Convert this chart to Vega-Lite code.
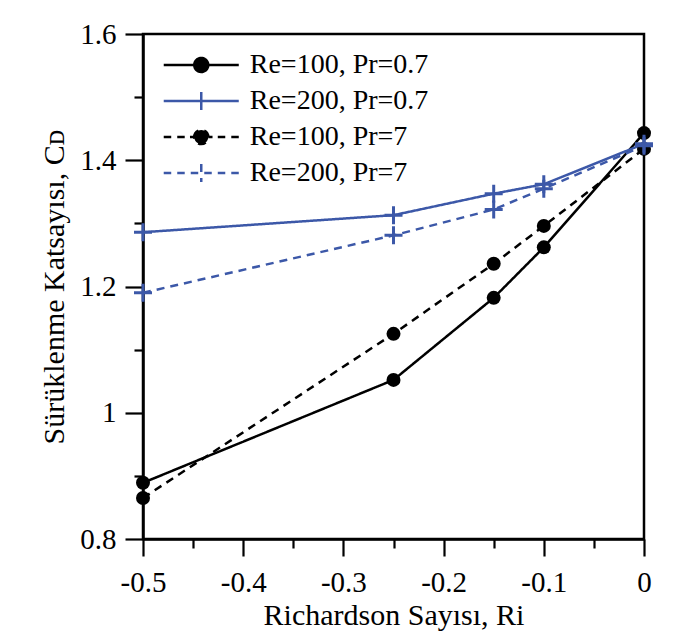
{
  "$schema": "https://vega.github.io/schema/vega-lite/v6.json",
  "width": 501,
  "height": 505,
  "autosize": {"type": "none"},
  "padding": {"left": 143, "top": 34, "right": 39, "bottom": 104},
  "background": "white",
  "config": {
    "font": "Liberation Serif",
    "view": {"stroke": "black", "strokeWidth": 2.5},
    "axis": {
      "grid": false,
      "domainColor": "black",
      "domainWidth": 2.5,
      "tickColor": "black",
      "tickWidth": 2.2,
      "labelColor": "black",
      "titleColor": "black",
      "labelFont": "Liberation Serif",
      "titleFont": "Liberation Serif",
      "titleFontWeight": "normal",
      "labelFontSize": 29,
      "titleFontSize": 30,
      "labelOverlap": false,
      "labelFlush": false
    }
  },
  "data": {
    "values": [
      {"series": "Re=100, Pr=0.7", "Re": 100, "Ri": -0.5, "CD": 0.889},
      {"series": "Re=100, Pr=0.7", "Re": 100, "Ri": -0.25, "CD": 1.052},
      {"series": "Re=100, Pr=0.7", "Re": 100, "Ri": -0.15, "CD": 1.182},
      {"series": "Re=100, Pr=0.7", "Re": 100, "Ri": -0.1, "CD": 1.262},
      {"series": "Re=100, Pr=0.7", "Re": 100, "Ri": 0, "CD": 1.443},
      {"series": "Re=200, Pr=0.7", "Re": 200, "Ri": -0.5, "CD": 1.286},
      {"series": "Re=200, Pr=0.7", "Re": 200, "Ri": -0.25, "CD": 1.313},
      {"series": "Re=200, Pr=0.7", "Re": 200, "Ri": -0.15, "CD": 1.347},
      {"series": "Re=200, Pr=0.7", "Re": 200, "Ri": -0.1, "CD": 1.362},
      {"series": "Re=200, Pr=0.7", "Re": 200, "Ri": 0, "CD": 1.426},
      {"series": "Re=100, Pr=7", "Re": 100, "Ri": -0.5, "CD": 0.865},
      {"series": "Re=100, Pr=7", "Re": 100, "Ri": -0.25, "CD": 1.125},
      {"series": "Re=100, Pr=7", "Re": 100, "Ri": -0.15, "CD": 1.236},
      {"series": "Re=100, Pr=7", "Re": 100, "Ri": -0.1, "CD": 1.296},
      {"series": "Re=100, Pr=7", "Re": 100, "Ri": 0, "CD": 1.418},
      {"series": "Re=200, Pr=7", "Re": 200, "Ri": -0.5, "CD": 1.19},
      {"series": "Re=200, Pr=7", "Re": 200, "Ri": -0.25, "CD": 1.281},
      {"series": "Re=200, Pr=7", "Re": 200, "Ri": -0.15, "CD": 1.322},
      {"series": "Re=200, Pr=7", "Re": 200, "Ri": -0.1, "CD": 1.355},
      {"series": "Re=200, Pr=7", "Re": 200, "Ri": 0, "CD": 1.423}
    ]
  },
  "encoding": {
    "x": {
      "field": "Ri",
      "type": "quantitative",
      "scale": {"domain": [-0.5, 0], "nice": false, "zero": false},
      "axis": {
        "title": "Richardson Sayısı, Ri",
        "values": [-0.5, -0.45, -0.4, -0.35, -0.3, -0.25, -0.2, -0.15, -0.1, -0.05, 0],
        "labelExpr": "abs(round(datum.value*100)) % 10 == 0 ? (datum.value == 0 ? '0' : '-0.' + abs(round(datum.value*10))) : ''",
        "tickSize": {"condition": {"test": "abs(round(datum.value*100)) % 10 == 0", "value": 17}, "value": 9},
        "labelPadding": 12,
        "titlePadding": 3
      }
    },
    "y": {
      "field": "CD",
      "type": "quantitative",
      "scale": {"domain": [0.8, 1.6], "nice": false, "zero": false},
      "axis": {
        "title": "Sürüklenme Katsayısı, Cᴅ",
        "values": [0.8, 0.9, 1.0, 1.1, 1.2, 1.3, 1.4, 1.5, 1.6],
        "labelExpr": "round(datum.value*10) % 2 == 0 ? format(datum.value, '.1~f') : ''",
        "tickSize": {"condition": {"test": "round(datum.value*10) % 2 == 0", "value": 18}, "value": 9},
        "labelPadding": 9,
        "titlePadding": 10
      }
    }
  },
  "layer": [
    {
      "mark": {"type": "line", "strokeWidth": 2.5},
      "encoding": {
        "color": {
          "field": "series",
          "type": "nominal",
          "scale": {
            "domain": ["Re=100, Pr=0.7", "Re=200, Pr=0.7", "Re=100, Pr=7", "Re=200, Pr=7"],
            "range": ["black", "#3c58a8", "black", "#3c58a8"]
          },
          "legend": {
            "title": null,
            "orient": "none",
            "legendX": 20,
            "legendY": 17,
            "padding": 0,
            "labelFont": "Liberation Serif",
            "labelFontSize": 28,
            "labelColor": "black",
            "labelLimit": 400,
            "labelOffset": 34.5,
            "rowPadding": 7,
            "symbolSize": 196,
            "symbolOffset": 24.25,
            "symbolStrokeWidth": 2.5,
            "encode": {
              "symbols": {
                "update": {
                  "shape": {"signal": "datum.value === 'Re=100, Pr=0.7' ? 'M-5.36,0H5.36M-1,0A1,1,0,1,1,1,0A1,1,0,1,1,-1,0Z' : datum.value === 'Re=200, Pr=0.7' ? 'M-5.36,0H5.36M0,-1.29V1.29' : datum.value === 'Re=100, Pr=7' ? 'M-5.36,0H-4.29M-3.43,0H-2.36M-1.61,0H-1M1,0H1.61M2.36,0H3.43M4.29,0H5.36M-1,0A1,1,0,1,1,1,0A1,1,0,1,1,-1,0Z' : 'M-5.36,0H-4.29M-3.43,0H-2.36M-1.5,0H-0.43M0.43,0H1.5M2.36,0H3.43M4.29,0H5.36M0,-1.29V1.29'"},
                  "fill": {"signal": "indexof(datum.value, 'Re=100') == 0 ? 'black' : 'transparent'"},
                  "stroke": {"signal": "indexof(datum.value, 'Re=100') == 0 ? 'black' : '#3c58a8'"},
                  "strokeDash": {"value": [1, 0]},
                  "opacity": {"value": 1}
                }
              }
            }
          }
        },
        "strokeDash": {
          "field": "series",
          "type": "nominal",
          "scale": {
            "domain": ["Re=100, Pr=0.7", "Re=200, Pr=0.7", "Re=100, Pr=7", "Re=200, Pr=7"],
            "range": [[1, 0], [1, 0], [8, 6], [8, 6]]
          },
          "legend": null
        }
      }
    },
    {
      "transform": [{"filter": "datum.Re == 100"}],
      "mark": {"type": "point", "shape": "circle", "filled": true, "size": 196, "opacity": 1, "color": "black"}
    },
    {
      "transform": [{"filter": "datum.Re == 200"}],
      "mark": {"type": "point", "shape": "M-1,0H1M0,-1V1", "filled": false, "size": 324, "strokeWidth": 3, "opacity": 1, "color": "#3c58a8"}
    }
  ]
}
